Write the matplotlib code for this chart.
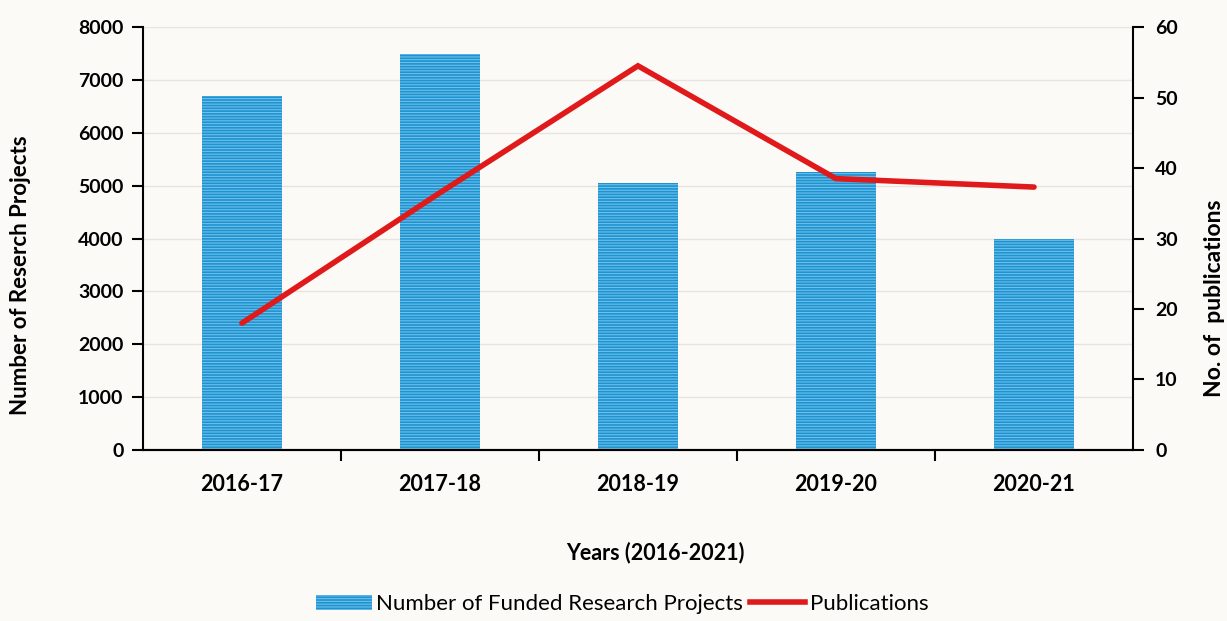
import matplotlib
matplotlib.use("Agg")
import matplotlib.pyplot as plt
from matplotlib.patches import Patch
from matplotlib.lines import Line2D

plt.rcParams["font.family"] = ["Lato", "DejaVu Sans"]
plt.rcParams["hatch.linewidth"] = 0.8

# Data
years = ["2016-17", "2017-18", "2018-19", "2019-20", "2020-21"]
funded_projects = [6700, 7500, 5050, 5250, 4000]
publications = [18, 36.5, 54.5, 38.5, 37.3]

bar_blue = "#1f93d0"
stripe_blue = "#6cc0ea"
line_red = "#e01a1a"
paper = "#fbfaf7"

fig = plt.figure(figsize=(12.27, 6.21), dpi=100, facecolor=paper)
ax = fig.add_axes([0.1165, 0.2754, 0.8069, 0.681])
ax.set_facecolor(paper)

x = range(len(years))
ax.bar(x, funded_projects, width=0.4, color=bar_blue, edgecolor=stripe_blue,
       hatch="------", linewidth=0, zorder=2)
ax.set_xlim(-0.5, len(years) - 0.5)
ax.set_ylim(0, 8000)
ax.set_yticks(range(0, 8001, 1000))
ax.grid(axis="y", color="#e8e4de", linewidth=1, zorder=0)

ax.set_xticks(list(x))
ax.set_xticklabels(years)
ax.set_xticks([i + 0.5 for i in range(len(years) - 1)], minor=True)
ax.tick_params(axis="x", which="major", length=0, pad=17)
ax.tick_params(axis="x", which="minor", length=8, width=1.5, direction="out")
ax.tick_params(axis="y", length=8, width=1.5, direction="out", pad=6)

ax2 = ax.twinx()
ax2.plot(x, publications, color=line_red, linewidth=4, solid_capstyle="round",
         solid_joinstyle="miter", zorder=3)
ax2.set_ylim(0, 60)
ax2.set_yticks(range(0, 61, 10))
ax2.tick_params(axis="y", length=8, width=1.5, direction="out", pad=8)

for a in (ax, ax2):
    a.spines["top"].set_visible(False)
    for side in ("left", "right", "bottom"):
        a.spines[side].set_linewidth(1.5)
    for lbl in a.get_yticklabels():
        lbl.set_fontsize(14)
        lbl.set_fontweight("bold")
for lbl in ax.get_xticklabels():
    lbl.set_fontsize(15.5)
    lbl.set_fontweight("bold")
ax.spines["right"].set_visible(False)
ax2.spines["left"].set_visible(False)

fig.text(0.017, 0.557, "Number of Reserch Projects", rotation=90, ha="center",
         va="center", fontsize=16, fontweight="bold")
fig.text(0.99, 0.52, "No. of  publications", rotation=90, ha="center",
         va="center", fontsize=16.5, fontweight="bold")
fig.text(0.534, 0.111, "Years (2016-2021)", ha="center", va="center",
         fontsize=15.5, fontweight="bold")

handles = [
    Patch(facecolor=bar_blue, edgecolor=stripe_blue, hatch="------", linewidth=0),
    Line2D([], [], color=line_red, linewidth=4),
]
fig.legend(handles, ["Number of Funded Research Projects", "Publications"],
           loc="center", bbox_to_anchor=(0.507, 0.027), ncol=2, frameon=False,
           fontsize=16, handlelength=2.5, handleheight=0.7, handletextpad=0.2,
           columnspacing=0.3)

fig.savefig("out.png", dpi=100, facecolor=paper)
